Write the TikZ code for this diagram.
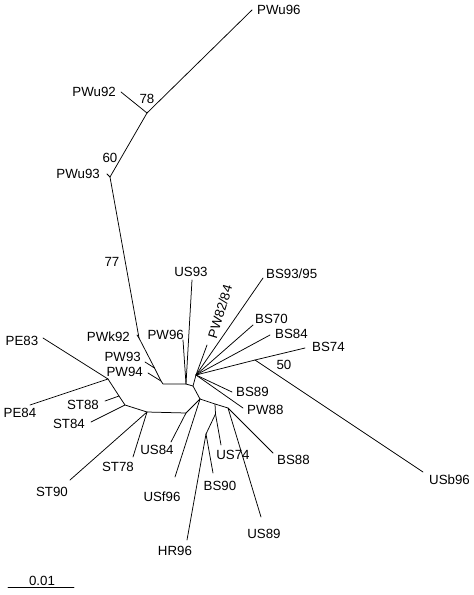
\documentclass[tikz,border=0pt]{standalone}
\usepackage{fontspec}
\setmainfont{Liberation Sans}
\begin{document}
\begin{tikzpicture}[x=1pt,y=-1pt,
  br/.style={line width=0.75pt,line cap=round,line join=round},
  lab/.style={inner sep=0pt,font=\fontsize{13.3}{15}\selectfont}]
\useasboundingbox (0,0) rectangle (474,595);
% internal nodes
\coordinate (n78) at (147,113);
\coordinate (n60) at (110,177);
\coordinate (nK) at (139,338);
\coordinate (n93) at (154.5,368);
\coordinate (n94) at (161,381);
\coordinate (nA) at (163,384);
\coordinate (nB) at (186,384);
\coordinate (nC) at (193,386);
\coordinate (nBS) at (196,375);
\coordinate (nL) at (200,399);
\coordinate (nR1) at (215,404);
\coordinate (nR1b) at (215.5,414);
\coordinate (nHB) at (206,434);
\coordinate (nR2) at (228,408);
\coordinate (nB74) at (255,360);
\coordinate (nU84) at (186,413);
\coordinate (nST) at (147,412);
\coordinate (nST84) at (125,405);
\coordinate (nST88) at (119,396);
\coordinate (nPE) at (108,379);
% leaf ends
\coordinate (lPWu96) at (252,10);
\coordinate (lPWu92) at (121,92);
\coordinate (lPWu93) at (107,174);
\coordinate (lPWk92) at (137,335);
\coordinate (lPW93) at (145,362);
\coordinate (lPW94) at (148,373);
\coordinate (lUS93) at (192,280);
\coordinate (lPW96) at (183,340);
\coordinate (lPW8284) at (207,345);
\coordinate (lBS9395) at (263,278);
\coordinate (lBS70) at (253,325);
\coordinate (lBS84) at (270,335);
\coordinate (lBS74) at (305,348);
\coordinate (lUSb96) at (423,472);
\coordinate (lBS89) at (232,392);
\coordinate (lPW88) at (243,408);
\coordinate (lBS88) at (273,453);
\coordinate (lUS89) at (261,517);
\coordinate (lUS74) at (221,445);
\coordinate (lBS90) at (213,473);
\coordinate (lHR96) at (187,540);
\coordinate (lUSf96) at (175,477);
\coordinate (lUS84) at (171,442);
\coordinate (lST78) at (133,457);
\coordinate (lST90) at (70,480);
\coordinate (lST84) at (91,422);
\coordinate (lST88) at (105,401);
\coordinate (lPE84) at (30,405);
\coordinate (lPE83) at (43,338);
\coordinate (sb1) at (8,587);
\coordinate (sb2) at (74,587);
% branches
\draw[br] (lPWu96) -- (n78) -- (n60) -- (nK) -- (n93) -- (n94) -- (nA) -- (nB) -- (nC) -- (nL);
\draw[br] (lPWu92) -- (n78);
\draw[br] (lPWu93) -- (n60);
\draw[br] (lPWk92) -- (nK);
\draw[br] (lPW93) -- (n93);
\draw[br] (lPW94) -- (n94);
\draw[br] (lUS93) -- (nB);
\draw[br] (lPW96) -- (nB);
\draw[br] (nC) -- (nBS);
\draw[br] (nBS) -- (lPW8284);
\draw[br] (nBS) -- (lBS9395);
\draw[br] (nBS) -- (lBS70);
\draw[br] (nBS) -- (lBS84);
\draw[br] (nBS) -- (nB74) -- (lBS74);
\draw[br] (nB74) -- (lUSb96);
\draw[br] (nBS) -- (lBS89);
\draw[br] (nBS) -- (lPW88);
\draw[br] (nL) -- (nR1) -- (nR2) -- (lBS88);
\draw[br] (nR2) -- (lUS89);
\draw[br] (nR1) -- (nR1b) -- (lUS74);
\draw[br] (nR1b) -- (nHB) -- (lBS90);
\draw[br] (nHB) -- (lHR96);
\draw[br] (nL) -- (lUSf96);
\draw[br] (nL) -- (nU84) -- (lUS84);
\draw[br] (nU84) -- (nST) -- (nST84) -- (nST88) -- (nPE) -- (lPE83);
\draw[br] (nPE) -- (lPE84);
\draw[br] (nST88) -- (lST88);
\draw[br] (nST84) -- (lST84);
\draw[br] (nST) -- (lST90);
\draw[br] (nST) -- (lST78);
\draw[br] (sb1) -- (sb2);
% labels
\node[lab,anchor=west] (tPWu96) at (257,10) {PWu96};
\node[lab,anchor=east] (tPWu92) at (116,92) {PWu92};
\node[lab] (t78) at (147,99) {78};
\node[lab] (t60) at (110,158) {60};
\node[lab,anchor=east] (tPWu93) at (100,174) {PWu93};
\node[lab] (t77) at (112,262) {77};
\node[lab,anchor=east] (tPWk92) at (130,337) {PWk92};
\node[lab,anchor=east] (tPW93) at (141,357) {PW93};
\node[lab,anchor=east] (tPW94) at (143,372) {PW94};
\node[lab,anchor=east] (tPW96) at (184,335) {PW96};
\node[lab] (tUS93) at (191,272) {US93};
\node[lab,anchor=west,rotate=73] (tPW8284) at (212,338) {PW82/84};
\node[lab,anchor=west] (tBS9395) at (266,274) {BS93/95};
\node[lab,anchor=west] (tBS70) at (255,319) {BS70};
\node[lab,anchor=west] (tBS84) at (275,334) {BS84};
\node[lab,anchor=west] (tBS74) at (312,347) {BS74};
\node[lab] (t50) at (284,365) {50};
\node[lab,anchor=west] (tUSb96) at (429,480) {USb96};
\node[lab,anchor=west] (tBS89) at (236,392) {BS89};
\node[lab,anchor=west] (tPW88) at (247,410) {PW88};
\node[lab,anchor=west] (tBS88) at (277,460) {BS88};
\node[lab] (tUS89) at (264,534) {US89};
\node[lab] (tUS74) at (233,455) {US74};
\node[lab] (tBS90) at (220,486) {BS90};
\node[lab] (tHR96) at (175,551) {HR96};
\node[lab] (tUSf96) at (162,497) {USf96};
\node[lab] (tUS84) at (157,450) {US84};
\node[lab] (tST78) at (118,467) {ST78};
\node[lab] (tST90) at (52,492) {ST90};
\node[lab] (tST84) at (69,424) {ST84};
\node[lab] (tST88) at (83,405) {ST88};
\node[lab] (tPE84) at (20,413) {PE84};
\node[lab] (tPE83) at (22,341) {PE83};
\node[lab] (tscale) at (42,581) {0.01};
\end{tikzpicture}
\end{document}
